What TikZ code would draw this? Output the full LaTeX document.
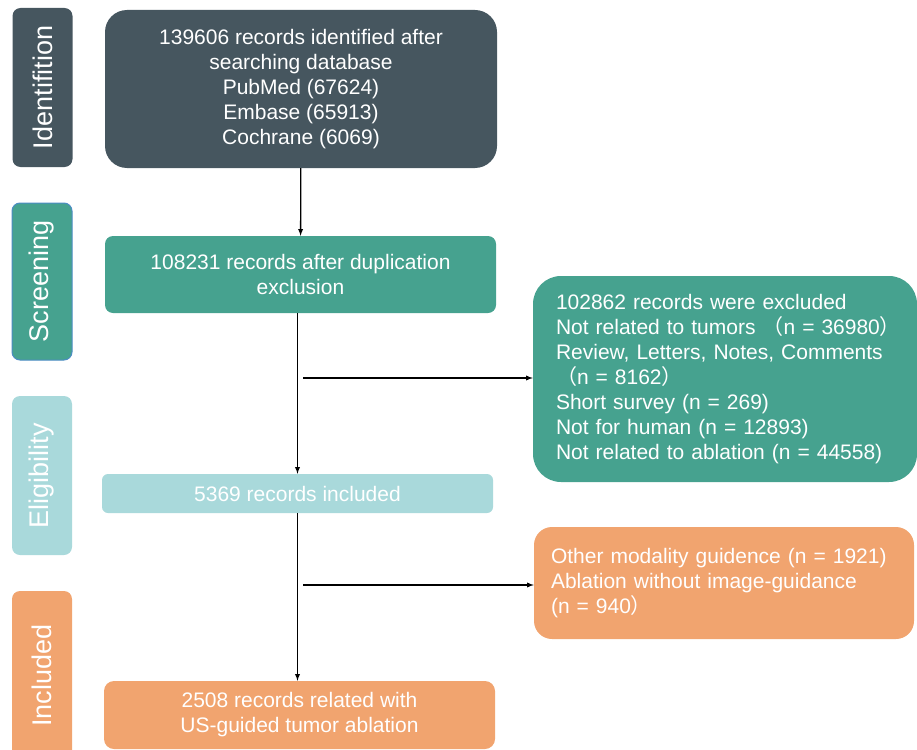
\documentclass[tikz,border=0pt]{standalone}
\usepackage{fontspec}
\setmainfont{Liberation Sans}
\newfontfamily\cjk{Noto Sans CJK SC}
\usetikzlibrary{positioning}
\definecolor{slatebox}{HTML}{46565F}
\definecolor{tealbox}{HTML}{46A28F}
\definecolor{lightbox}{HTML}{A9D9DB}
\definecolor{orangebox}{HTML}{F1A46F}
\definecolor{screenline}{HTML}{4C8CC4}

\begin{document}
\begin{tikzpicture}[x=1pt, y=-1pt,
    stage/.style={rectangle, rounded corners=8pt, rotate=90, inner sep=0pt,
        minimum height=60pt, text=white, font=\fontsize{27}{30}\selectfont},
    box/.style={rectangle, inner sep=0pt, text=white, align=center,
        font=\fontsize{21}{25}\selectfont},
    flow/.style={-latex, line width=1.3pt}]
        % fix the size of the picture
        \useasboundingbox (0, 0) rectangle (917, 749);
        \clip (0, 0) rectangle (917, 749);
        % draw stage labels on the left
        \node[stage, fill=slatebox, minimum width=159pt] (ident) at (42.5, 87.5) {Identifition};
        \node[stage, fill=tealbox, draw=screenline, line width=1pt, minimum width=157pt] (screen) at (42, 281.5) {Screening};
        \node[stage, fill=lightbox, minimum width=159pt] (elig) at (42, 475.5) {Eligibility};
        \node[stage, fill=orangebox, minimum width=169pt] (incl) at (42, 675.5) {Included};
        % draw main boxes
        \node[box, fill=slatebox, rounded corners=22pt, minimum width=392pt, minimum height=158pt] (search) at (301, 89)
            {139606 records identified after\\searching database\\PubMed (67624)\\Embase (65913)\\Cochrane (6069)};
        \node[box, fill=tealbox, rounded corners=8pt, minimum width=391pt, minimum height=77pt] (dedup) at (300.5, 274.5)
            {108231 records after duplication\\exclusion};
        \node[box, fill=lightbox, rounded corners=6pt, minimum width=391pt, minimum height=39pt] (kept) at (297.5, 493.5)
            {5369 records included};
        \node[box, fill=orangebox, rounded corners=10pt, minimum width=391pt, minimum height=68pt] (final) at (299.5, 715)
            {2508 records related with\\US-guided tumor ablation};
        % draw boxes of excluded records
        \node[box, fill=tealbox, rounded corners=28pt, align=left, inner xsep=23pt, text width=338pt, minimum height=206pt] (excl1) at (725, 379)
            {102862 records were excluded\\
             \mbox{Not related to tumors {\cjk （}n = 36980{\cjk ）}}\\
             Review, Letters, Notes, Comments\\
             {\cjk （}n = 8162{\cjk ）}\\
             Short survey (n = 269)\\
             Not for human (n = 12893)\\
             Not related to ablation (n = 44558)};
        \node[box, fill=orangebox, rounded corners=18pt, align=left, inner xsep=17pt, text width=346pt, minimum height=112pt] (excl2) at (724, 583)
            {Other modality guidence (n = 1921)\\
             Ablation without image-guidance\\
             (n = 940{\cjk ）}};
        % draw arrows between boxes
        \draw[flow] (search) -- (dedup);
        \draw[flow] (kept.north |- dedup.south) -- (kept.north);
        \draw[flow] (kept.south) -- (kept.south |- final.north);
        % draw arrows to excluded records
        \coordinate (split1) at (303, 378);
        \coordinate (split2) at (303, 585);
        \draw[flow] (split1) -- (split1 -| excl1.west);
        \draw[flow] (split2) -- (split2 -| excl2.west);
    \end{tikzpicture}
\end{document}
